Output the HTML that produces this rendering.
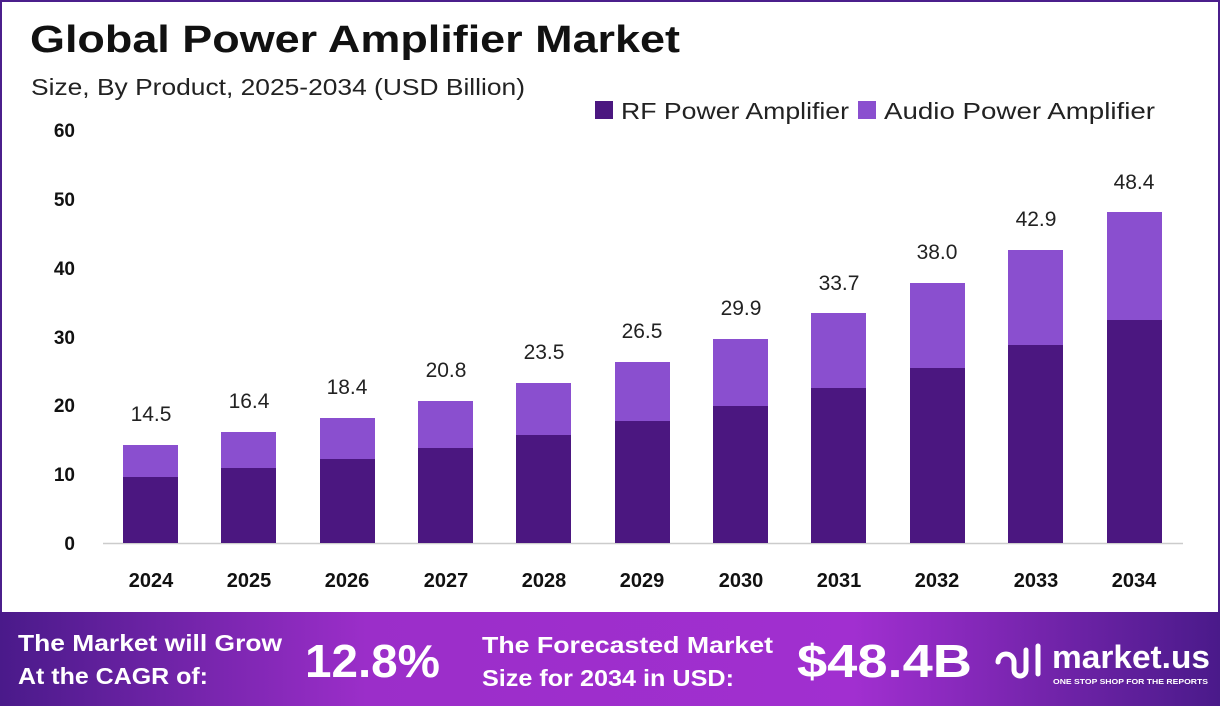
<!DOCTYPE html>
<html><head><meta charset="utf-8"><style>
body{margin:0;width:1220px;height:706px;overflow:hidden;background:#fff;font-family:"Liberation Sans",sans-serif}
</style></head><body>
<svg width="1220" height="706" viewBox="0 0 1220 706" xmlns="http://www.w3.org/2000/svg" font-family="Liberation Sans, sans-serif">
<defs>
<linearGradient id="ft" x1="0" x2="1" y1="0" y2="0">
<stop offset="0" stop-color="#4a1a8a"/><stop offset="0.3" stop-color="#9b2ec9"/><stop offset="0.7" stop-color="#a12fd0"/><stop offset="1" stop-color="#4a1a8a"/>
</linearGradient>
</defs>
<rect x="1" y="1" width="1218" height="704" fill="#fff" stroke="#4b1f8c" stroke-width="2"/>
<text x="30" y="52" font-size="38" font-weight="bold" fill="#111" textLength="650" lengthAdjust="spacingAndGlyphs">Global Power Amplifier Market</text>
<text x="31" y="95" font-size="23" fill="#222" textLength="494" lengthAdjust="spacingAndGlyphs">Size, By Product, 2025-2034 (USD Billion)</text>
<rect x="595" y="101" width="18" height="18" fill="#4b1780"/>
<text x="621" y="119" font-size="23" fill="#222" textLength="228" lengthAdjust="spacingAndGlyphs">RF Power Amplifier</text>
<rect x="858" y="101" width="18" height="18" fill="#8a4fcf"/>
<text x="884" y="119" font-size="23" fill="#222" textLength="271" lengthAdjust="spacingAndGlyphs">Audio Power Amplifier</text>
<g font-size="19" font-weight="bold" fill="#111" text-anchor="end">
<text x="75" y="137">60</text><text x="75" y="206">50</text><text x="75" y="275">40</text><text x="75" y="344">30</text><text x="75" y="412">20</text><text x="75" y="481">10</text><text x="75" y="550">0</text>
</g>
<line x1="103" y1="543.5" x2="1183" y2="543.5" stroke="#ccc" stroke-width="1.5"/>
<g font-size="20" font-weight="bold" fill="#111" text-anchor="middle">
<text x="151" y="587">2024</text><text x="249" y="587">2025</text><text x="347" y="587">2026</text><text x="446" y="587">2027</text><text x="544" y="587">2028</text><text x="642" y="587">2029</text><text x="741" y="587">2030</text><text x="839" y="587">2031</text><text x="937" y="587">2032</text><text x="1036" y="587">2033</text><text x="1134" y="587">2034</text>
</g>
<g fill="#8a4fcf">
<rect x="123" y="445" width="55" height="98"/><rect x="221" y="432" width="55" height="111"/><rect x="320" y="418" width="55" height="125"/><rect x="418" y="401" width="55" height="142"/><rect x="516" y="383" width="55" height="160"/><rect x="615" y="362" width="55" height="181"/><rect x="713" y="339" width="55" height="204"/><rect x="811" y="313" width="55" height="230"/><rect x="910" y="283" width="55" height="260"/><rect x="1008" y="250" width="55" height="293"/><rect x="1107" y="212" width="55" height="331"/>
</g>
<g fill="#4b1780">
<rect x="123" y="477" width="55" height="66"/><rect x="221" y="468" width="55" height="75"/><rect x="320" y="459" width="55" height="84"/><rect x="418" y="448" width="55" height="95"/><rect x="516" y="435" width="55" height="108"/><rect x="615" y="421" width="55" height="122"/><rect x="713" y="406" width="55" height="137"/><rect x="811" y="388" width="55" height="155"/><rect x="910" y="368" width="55" height="175"/><rect x="1008" y="345" width="55" height="198"/><rect x="1107" y="320" width="55" height="223"/>
</g>
<g font-size="21" fill="#222" text-anchor="middle">
<text x="151" y="421">14.5</text><text x="249" y="408">16.4</text><text x="347" y="394">18.4</text><text x="446" y="377">20.8</text><text x="544" y="359">23.5</text><text x="642" y="338">26.5</text><text x="741" y="315">29.9</text><text x="839" y="290">33.7</text><text x="937" y="259">38.0</text><text x="1036" y="226">42.9</text><text x="1134" y="189">48.4</text>
</g>
<rect x="0" y="612" width="1220" height="94" fill="url(#ft)"/>
<g fill="#fff" font-weight="bold">
<text x="18" y="651" font-size="23" textLength="264" lengthAdjust="spacingAndGlyphs">The Market will Grow</text>
<text x="18" y="684" font-size="23" textLength="190" lengthAdjust="spacingAndGlyphs">At the CAGR of:</text>
<text x="305" y="677" font-size="46" textLength="135" lengthAdjust="spacingAndGlyphs">12.8%</text>
<text x="482" y="653" font-size="23" textLength="291" lengthAdjust="spacingAndGlyphs">The Forecasted Market</text>
<text x="482" y="686" font-size="23" textLength="252" lengthAdjust="spacingAndGlyphs">Size for 2034 in USD:</text>
<text x="797" y="677" font-size="46" textLength="175" lengthAdjust="spacingAndGlyphs">$48.4B</text>
<text x="1052" y="668" font-size="32" textLength="158" lengthAdjust="spacingAndGlyphs">market.us</text>
<text x="1053" y="684" font-size="7" textLength="155" lengthAdjust="spacingAndGlyphs">ONE STOP SHOP FOR THE REPORTS</text>
</g>
<g fill="none" stroke="#fff" stroke-width="5" stroke-linecap="round">
<path d="M998 662 a8 8 0 0 1 16 0 v8 a6 6 0 0 0 12 0 v-20"/>
<path d="M1038 646 v28"/>
</g>
</svg>
</body></html>
